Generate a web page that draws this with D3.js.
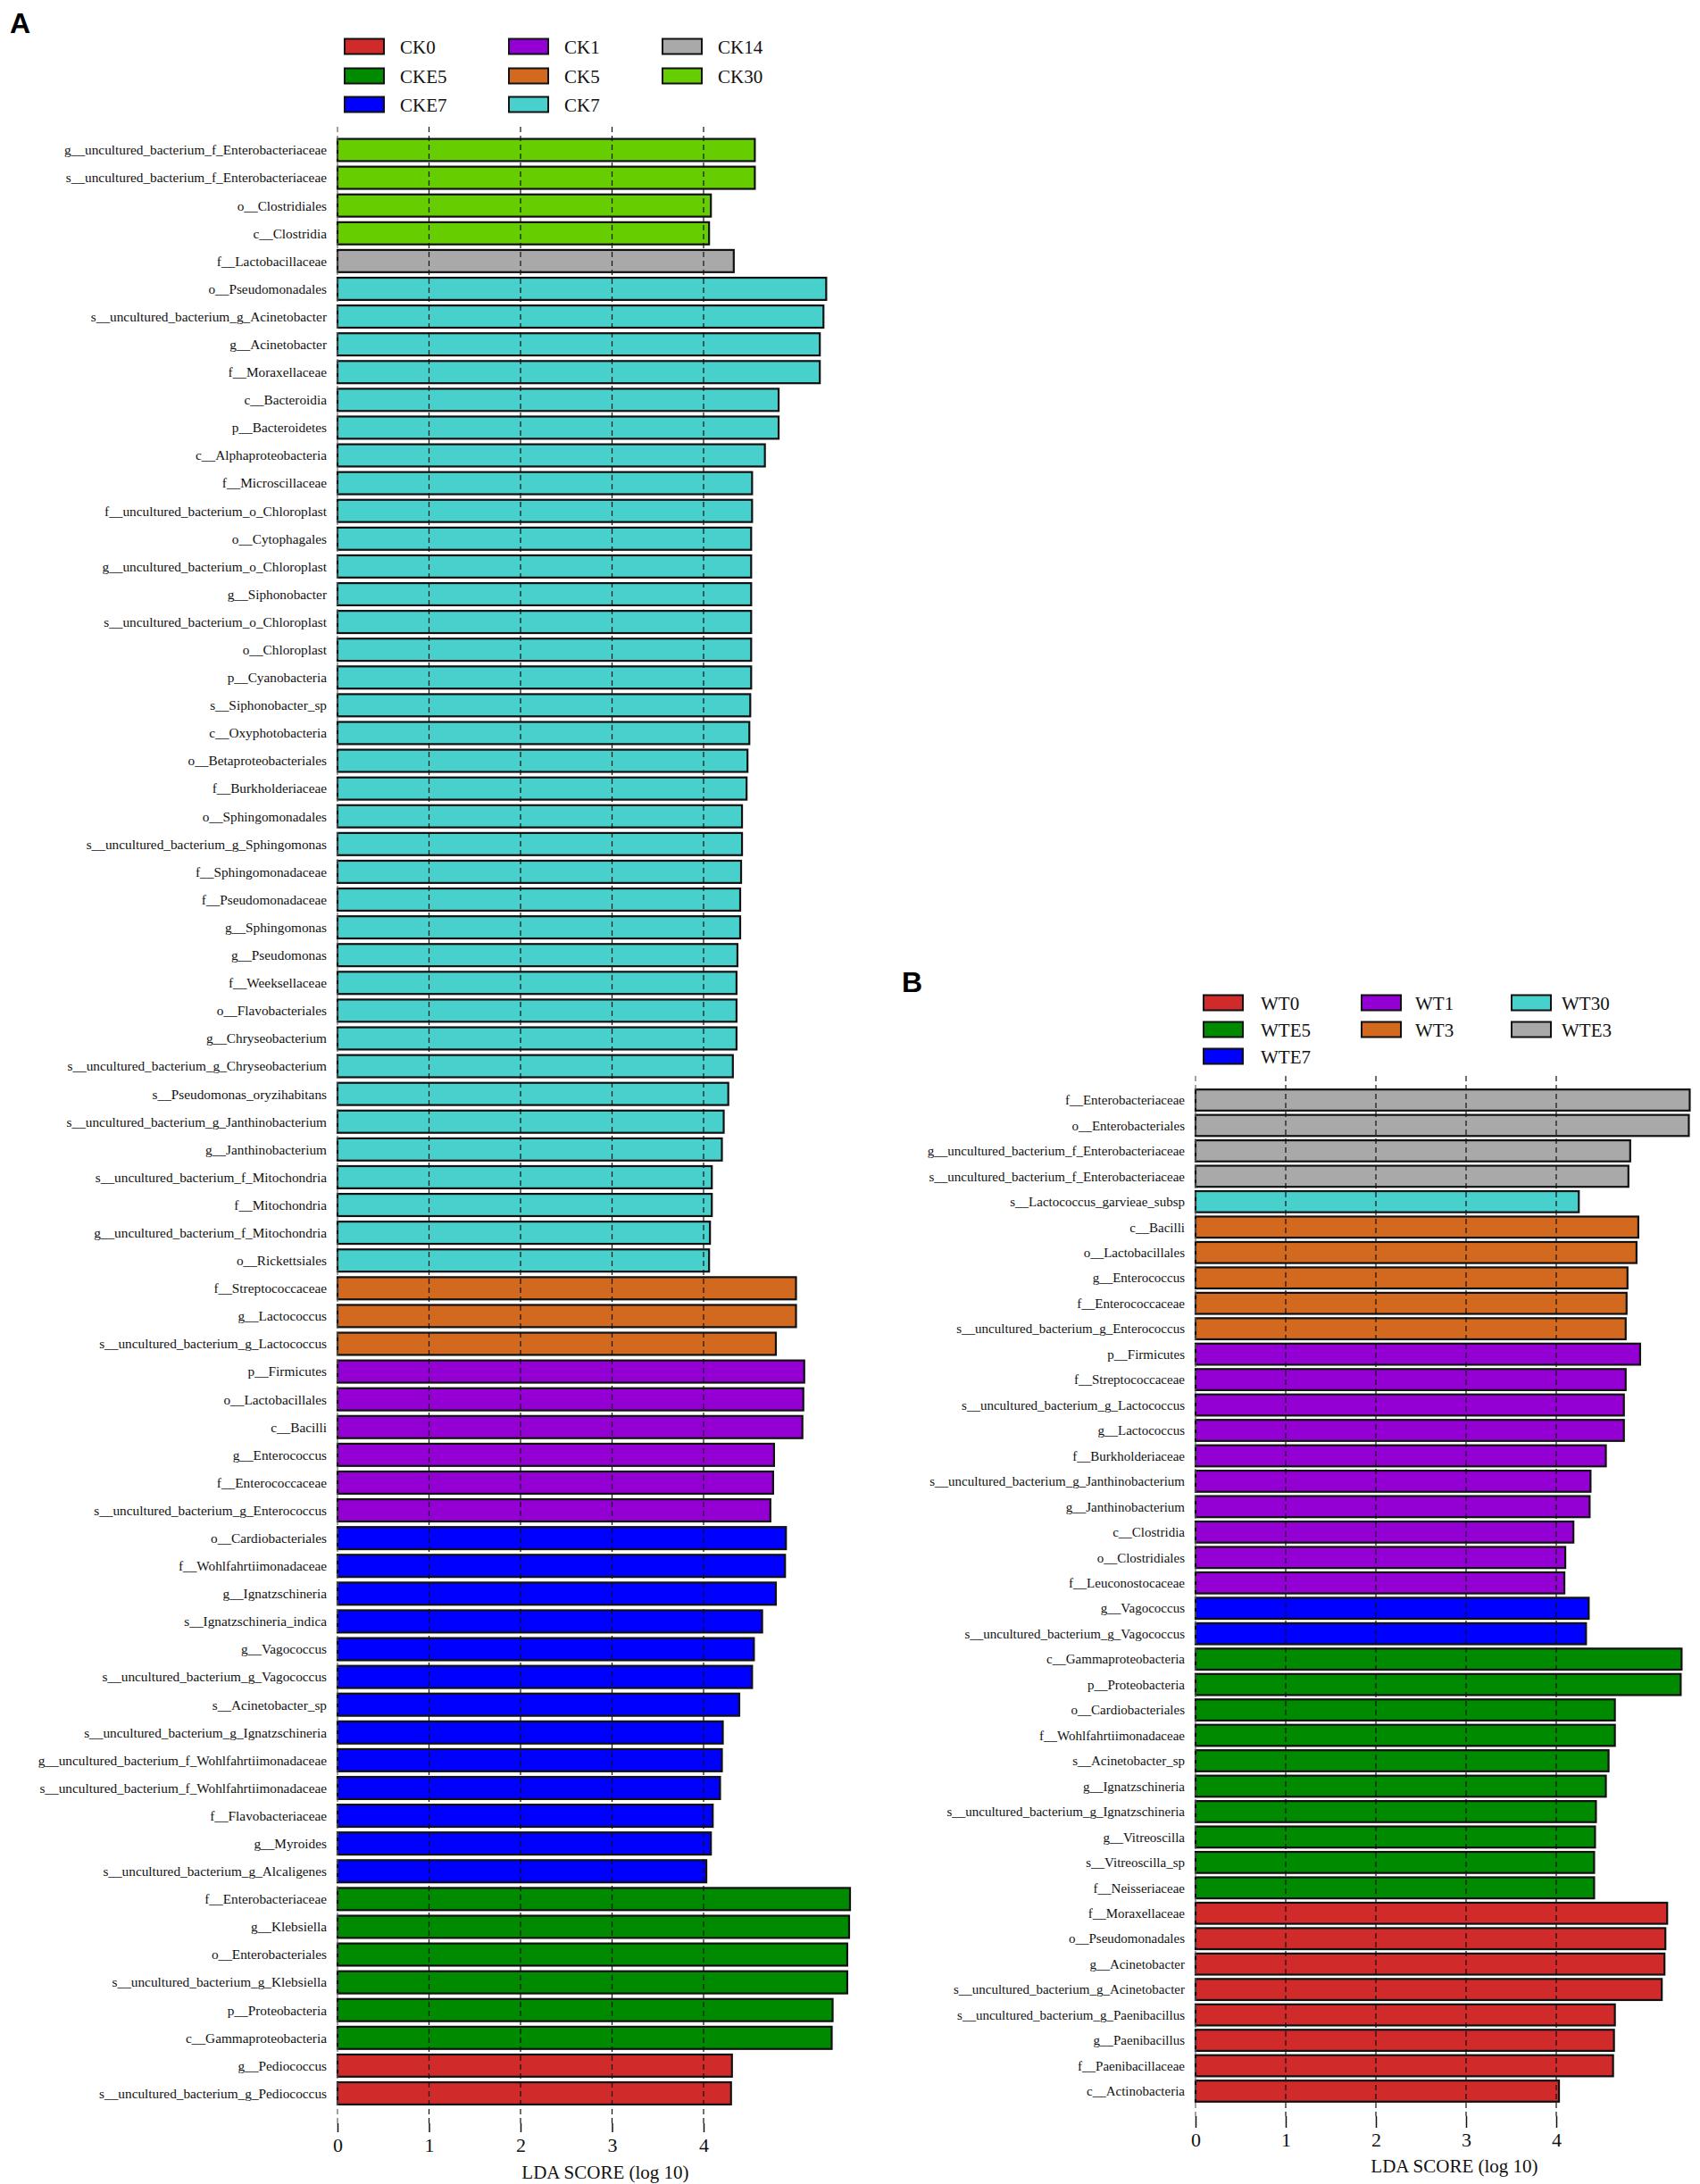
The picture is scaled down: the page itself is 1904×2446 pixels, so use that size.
<!DOCTYPE html>
<html>
<head>
	<meta charset="utf-8">
	<title>LDA scores</title>
	<script src="https://cdn.jsdelivr.net/npm/d3@7"></script>
	<style>
		body { margin: 0; background: #fff; }
		svg { display: block; }
	</style>
</head>
<body>
<div id="chart"></div>
<script>

// ---- panel A data ----
const groupsA  = ["CK0", "CKE5", "CKE7", "CK1", "CK5", "CK7", "CK14", "CK30"];
const coloursA = ["#d02a2a", "#008a00", "#0000ff", "#9400d3", "#d2691e", "#48d1cc", "#a9a9a9", "#66cd00"];

const taxaA = [
	"g__uncultured_bacterium_f_Enterobacteriaceae", "s__uncultured_bacterium_f_Enterobacteriaceae",
	"o__Clostridiales", "c__Clostridia", "f__Lactobacillaceae", "o__Pseudomonadales",
	"s__uncultured_bacterium_g_Acinetobacter", "g__Acinetobacter", "f__Moraxellaceae",
	"c__Bacteroidia", "p__Bacteroidetes", "c__Alphaproteobacteria", "f__Microscillaceae",
	"f__uncultured_bacterium_o_Chloroplast", "o__Cytophagales", "g__uncultured_bacterium_o_Chloroplast",
	"g__Siphonobacter", "s__uncultured_bacterium_o_Chloroplast", "o__Chloroplast", "p__Cyanobacteria",
	"s__Siphonobacter_sp", "c__Oxyphotobacteria", "o__Betaproteobacteriales", "f__Burkholderiaceae",
	"o__Sphingomonadales", "s__uncultured_bacterium_g_Sphingomonas", "f__Sphingomonadaceae",
	"f__Pseudomonadaceae", "g__Sphingomonas", "g__Pseudomonas", "f__Weeksellaceae",
	"o__Flavobacteriales", "g__Chryseobacterium", "s__uncultured_bacterium_g_Chryseobacterium",
	"s__Pseudomonas_oryzihabitans", "s__uncultured_bacterium_g_Janthinobacterium", "g__Janthinobacterium",
	"s__uncultured_bacterium_f_Mitochondria", "f__Mitochondria", "g__uncultured_bacterium_f_Mitochondria",
	"o__Rickettsiales", "f__Streptococcaceae", "g__Lactococcus", "s__uncultured_bacterium_g_Lactococcus",
	"p__Firmicutes", "o__Lactobacillales", "c__Bacilli", "g__Enterococcus", "f__Enterococcaceae",
	"s__uncultured_bacterium_g_Enterococcus", "o__Cardiobacteriales", "f__Wohlfahrtiimonadaceae",
	"g__Ignatzschineria", "s__Ignatzschineria_indica", "g__Vagococcus", "s__uncultured_bacterium_g_Vagococcus",
	"s__Acinetobacter_sp", "s__uncultured_bacterium_g_Ignatzschineria",
	"g__uncultured_bacterium_f_Wohlfahrtiimonadaceae", "s__uncultured_bacterium_f_Wohlfahrtiimonadaceae",
	"f__Flavobacteriaceae", "g__Myroides", "s__uncultured_bacterium_g_Alcaligenes",
	"f__Enterobacteriaceae", "g__Klebsiella", "o__Enterobacteriales", "s__uncultured_bacterium_g_Klebsiella",
	"p__Proteobacteria", "c__Gammaproteobacteria", "g__Pediococcus", "s__uncultured_bacterium_g_Pediococcus"
];

const ldaA = [
	4.56, 4.56, 4.08, 4.06, 4.33, 5.34, 5.31, 5.27, 5.27, 4.82, 4.82, 4.67, 4.53, 4.53, 4.52, 4.52,
	4.52, 4.52, 4.52, 4.52, 4.51, 4.50, 4.48, 4.47, 4.42, 4.42, 4.41, 4.40, 4.40, 4.37, 4.36, 4.36,
	4.36, 4.32, 4.27, 4.22, 4.20, 4.09, 4.09, 4.07, 4.06, 5.01, 5.01, 4.79, 5.10, 5.09, 5.08, 4.77,
	4.76, 4.73, 4.90, 4.89, 4.79, 4.64, 4.55, 4.53, 4.39, 4.21, 4.20, 4.18, 4.10, 4.08, 4.03, 5.60,
	5.59, 5.57, 5.57, 5.41, 5.40, 4.31, 4.30
];

const classA = [
	"CK30", "CK30", "CK30", "CK30", "CK14",
	"CK7", "CK7", "CK7", "CK7", "CK7", "CK7", "CK7", "CK7", "CK7", "CK7", "CK7", "CK7",
	"CK7", "CK7", "CK7", "CK7", "CK7", "CK7", "CK7", "CK7", "CK7", "CK7", "CK7", "CK7",
	"CK7", "CK7", "CK7", "CK7", "CK7", "CK7", "CK7", "CK7", "CK7", "CK7", "CK7", "CK7",
	"CK5", "CK5", "CK5",
	"CK1", "CK1", "CK1", "CK1", "CK1", "CK1",
	"CKE7", "CKE7", "CKE7", "CKE7", "CKE7", "CKE7", "CKE7", "CKE7", "CKE7", "CKE7", "CKE7", "CKE7", "CKE7",
	"CKE5", "CKE5", "CKE5", "CKE5", "CKE5", "CKE5",
	"CK0", "CK0"
];

// ---- panel B data ----
const groupsB  = ["WT0", "WTE5", "WTE7", "WT1", "WT3", "WT30", "WTE3"];
const coloursB = ["#d02a2a", "#008a00", "#0000ff", "#9400d3", "#d2691e", "#48d1cc", "#a9a9a9"];

const taxaB = [
	"f__Enterobacteriaceae", "o__Enterobacteriales", "g__uncultured_bacterium_f_Enterobacteriaceae",
	"s__uncultured_bacterium_f_Enterobacteriaceae", "s__Lactococcus_garvieae_subsp", "c__Bacilli",
	"o__Lactobacillales", "g__Enterococcus", "f__Enterococcaceae", "s__uncultured_bacterium_g_Enterococcus",
	"p__Firmicutes", "f__Streptococcaceae", "s__uncultured_bacterium_g_Lactococcus", "g__Lactococcus",
	"f__Burkholderiaceae", "s__uncultured_bacterium_g_Janthinobacterium", "g__Janthinobacterium",
	"c__Clostridia", "o__Clostridiales", "f__Leuconostocaceae", "g__Vagococcus",
	"s__uncultured_bacterium_g_Vagococcus", "c__Gammaproteobacteria", "p__Proteobacteria",
	"o__Cardiobacteriales", "f__Wohlfahrtiimonadaceae", "s__Acinetobacter_sp", "g__Ignatzschineria",
	"s__uncultured_bacterium_g_Ignatzschineria", "g__Vitreoscilla", "s__Vitreoscilla_sp", "f__Neisseriaceae",
	"f__Moraxellaceae", "o__Pseudomonadales", "g__Acinetobacter", "s__uncultured_bacterium_g_Acinetobacter",
	"s__uncultured_bacterium_g_Paenibacillus", "g__Paenibacillus", "f__Paenibacillaceae", "c__Actinobacteria"
];

const ldaB = [
	5.48, 5.47, 4.82, 4.80, 4.25, 4.91, 4.89, 4.79, 4.78, 4.77, 4.93, 4.77, 4.75, 4.75, 4.55, 4.38,
	4.37, 4.19, 4.10, 4.09, 4.36, 4.33, 5.39, 5.38, 4.65, 4.65, 4.58, 4.55, 4.44, 4.43, 4.42, 4.42,
	5.23, 5.21, 5.20, 5.17, 4.65, 4.64, 4.63, 4.03
];

const classB = [
	"WTE3", "WTE3", "WTE3", "WTE3", "WT30",
	"WT3", "WT3", "WT3", "WT3", "WT3",
	"WT1", "WT1", "WT1", "WT1", "WT1", "WT1", "WT1", "WT1", "WT1", "WT1",
	"WTE7", "WTE7",
	"WTE5", "WTE5", "WTE5", "WTE5", "WTE5", "WTE5", "WTE5", "WTE5", "WTE5", "WTE5",
	"WT0", "WT0", "WT0", "WT0", "WT0", "WT0", "WT0", "WT0"
];

const tickValues = [0, 1, 2, 3, 4];

// ---- drawing ----
const width = 1904, height = 2446;
const serif = "'Liberation Serif', 'Times New Roman', serif";

const svg = d3.select("#chart").append("svg")
	.attr("width", width)
	.attr("height", height)
	.attr("viewBox", [0, 0, width, height]);

svg.append("rect").attr("width", width).attr("height", height).attr("fill", "#fff");

function drawPanel(p) {
	const g = svg.append("g");
	const n = p.taxa.length;

	const x = d3.scaleLinear().domain([0, 4]).range([p.x0, p.x4]);
	const step = (p.lastY - p.firstY) / (n - 1);
	const y = d3.scaleBand()
		.domain(d3.range(n))
		.range([p.firstY - step / 2, p.lastY + step / 2])
		.paddingInner(p.pad)
		.paddingOuter(p.pad / 2);
	const colour = d3.scaleOrdinal(p.groups, p.colours);

	// panel letter
	g.append("text")
		.attr("x", p.letterX).attr("y", p.letterY)
		.attr("font-family", "'Liberation Sans', Arial, sans-serif")
		.attr("font-weight", "bold")
		.attr("font-size", 32)
		.text(p.letter);

	// legend: slot [column, row] for each group
	const leg = g.append("g").selectAll("g")
		.data(p.groups)
		.join("g")
		.attr("transform", (d, i) => `translate(0,${p.legRows[p.legSlots[i][1]]})`);
	leg.append("rect")
		.attr("x", (d, i) => p.legBoxX[p.legSlots[i][0]])
		.attr("y", -8.5)
		.attr("width", 44).attr("height", 17)
		.attr("fill", d => colour(d))
		.attr("stroke", "#111").attr("stroke-width", 2);
	leg.append("text")
		.attr("x", (d, i) => p.legTextX[p.legSlots[i][0]])
		.attr("y", 8)
		.attr("font-family", serif)
		.attr("font-size", 21)
		.attr("fill", "#111")
		.text(d => d);

	// bars
	g.append("g").selectAll("rect")
		.data(d3.range(n))
		.join("rect")
		.attr("x", x(0))
		.attr("y", i => y(i))
		.attr("width", i => x(p.lda[i]) - x(0))
		.attr("height", y.bandwidth())
		.attr("fill", i => colour(p.cls[i]))
		.attr("stroke", "#111")
		.attr("stroke-width", 2.2);

	// taxon labels
	g.append("g").selectAll("text")
		.data(d3.range(n))
		.join("text")
		.attr("x", x(0) - 12)
		.attr("y", i => y(i) + y.bandwidth() / 2)
		.attr("dy", "0.35em")
		.attr("text-anchor", "end")
		.attr("font-family", serif)
		.attr("font-size", p.labelSize)
		.attr("fill", "#111")
		.text(i => p.taxa[i]);

	// dashed grid lines over the bars
	g.append("g").selectAll("line")
		.data(tickValues)
		.join("line")
		.attr("x1", d => x(d)).attr("x2", d => x(d))
		.attr("y1", p.gridTop).attr("y2", p.tickTop)
		.attr("stroke", d => d === 0 ? "#666" : "#111")
		.attr("stroke-width", 1.2)
		.attr("stroke-dasharray", "6,4");

	// axis
	const axis = g.append("g")
		.attr("transform", `translate(0,${p.tickTop})`)
		.call(d3.axisBottom(x).tickValues(tickValues).tickSize(p.tickLen).tickPadding(p.tickPad).tickFormat(d3.format("d")));
	axis.select(".domain").remove();
	axis.selectAll("line").attr("stroke", "#111").attr("stroke-width", 1.5);
	axis.selectAll("text")
		.attr("font-family", serif)
		.attr("font-size", 22)
		.attr("fill", "#111");

	g.append("text")
		.attr("x", p.titleX).attr("y", p.titleY)
		.attr("text-anchor", "middle")
		.attr("font-family", serif)
		.attr("font-size", 21)
		.attr("fill", "#111")
		.text("LDA SCORE (log 10)");
}

drawPanel({
	letter: "A", letterX: 11, letterY: 37,
	taxa: taxaA, lda: ldaA, cls: classA, groups: groupsA, colours: coloursA,
	x0: 378, x4: 788, firstY: 168, lastY: 2344.5, pad: 0.2,
	gridTop: 142, tickTop: 2378, tickLen: 10, tickPad: 6,
	legRows: [52, 85, 117], legBoxX: [386, 570, 742], legTextX: [448, 632, 804],
	legSlots: [[0, 0], [0, 1], [0, 2], [1, 0], [1, 1], [1, 2], [2, 0], [2, 1]],
	labelSize: 15.3, titleX: 678, titleY: 2440
});

drawPanel({
	letter: "B", letterX: 1010, letterY: 1111,
	taxa: taxaB, lda: ldaB, cls: classB, groups: groupsB, colours: coloursB,
	x0: 1339, x4: 1743, firstY: 1232, lastY: 2342, pad: 0.17,
	gridTop: 1205, tickTop: 2370, tickLen: 13, tickPad: 5,
	legRows: [1123, 1153, 1183], legBoxX: [1348, 1525, 1693], legTextX: [1412, 1585, 1749],
	legSlots: [[0, 0], [0, 1], [0, 2], [1, 0], [1, 1], [2, 0], [2, 1]],
	labelSize: 15, titleX: 1629, titleY: 2433
});

</script>
</body>
</html>
